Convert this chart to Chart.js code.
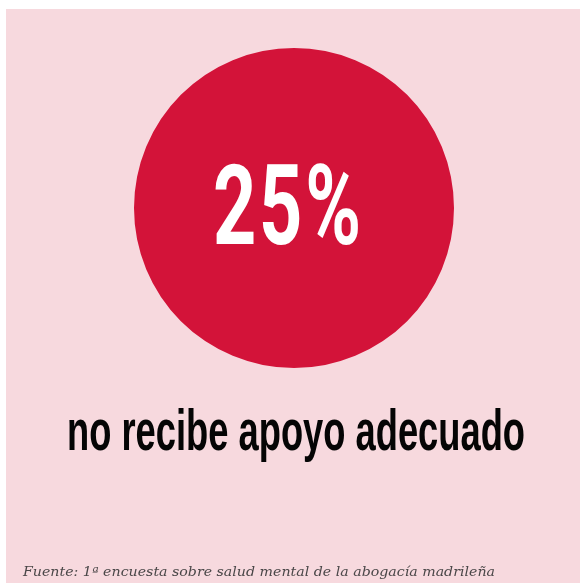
<!DOCTYPE html>
<html>
<head>
<meta charset="utf-8">
<script src="https://cdn.jsdelivr.net/npm/chart.js@4"></script>
<style>
  html, body { margin: 0; padding: 0; background: #ffffff; overflow: hidden; }
  #fondo { position: absolute; left: 6px; top: 9px; width: 574px; height: 574px; background: #f7d9de; }
  #grafico { position: absolute; left: 0; top: 0; }
</style>
</head>
<body>
<div id="fondo"></div>
<canvas id="grafico" width="580" height="583"></canvas>
<script>
// --- DATOS ---
const porcentajes = [25];
const etiquetas = ['no recibe apoyo adecuado'];
const circulo = [100]; // circulo completo
const fuente = 'Fuente: 1ª encuesta sobre salud mental de la abogacía madrileña';

// --- COLORES ---
const ROJO = '#d31339';
const TEXTO = '#050505';
const GRIS = '#4a4748';

// dibuja un texto ajustado a un ancho concreto (escala horizontal)
function textoAjustado(ctx, texto, font, x, y, ancho, color, align, espacio) {
    ctx.save();
    ctx.font = font;
    ctx.fillStyle = color;
    ctx.textBaseline = 'alphabetic';
    ctx.textAlign = 'left';
    let extra = 0;
    if (espacio) { ctx.letterSpacing = espacio + 'px'; extra = espacio; }
    const w = ctx.measureText(texto).width - extra; // sin el espacio final
    const k = ancho / w;
    let x0 = x;
    if (align === 'center') x0 = x - ancho / 2;
    ctx.translate(x0, y);
    ctx.scale(k, 1);
    ctx.fillText(texto, 0, 0);
    ctx.restore();
}

// --- PLUGIN TEXTOS ---
const textos = {
    id: 'textos',
    afterDraw(chart) {
        const ctx = chart.ctx;
        const arco = chart.getDatasetMeta(0).data[0];
        const cx = arco.x;
        // porcentaje dentro del circulo
        textoAjustado(ctx, porcentajes[0] + '%',
            "bold 111px Roboto, 'Liberation Sans', sans-serif",
            cx - 7, 244, 148, '#ffffff', 'center', 4);
        // etiqueta debajo
        textoAjustado(ctx, etiquetas[0],
            "bold 58px 'Liberation Sans Narrow', 'Liberation Sans', Arial, sans-serif",
            cx + 2, 450, 458, TEXTO, 'center');
        // fuente
        textoAjustado(ctx, fuente,
            "italic 13px 'DejaVu Serif', serif",
            23, 576, 472, GRIS, 'left');
    }
};

// --- GRAFICO ---
const ctx = document.getElementById('grafico').getContext('2d');
const grafico = new Chart(ctx, {
    type: 'pie',
    data: {
        labels: etiquetas,
        datasets: [{
            data: circulo,
            backgroundColor: [ROJO],
            borderWidth: 0,
            hoverOffset: 0,
            offset: 0
        }]
    },
    options: {
        responsive: false,
        animation: false,
        events: [],
        layout: {
            padding: { left: 134, right: 126, top: 48, bottom: 215 }
        },
        plugins: {
            legend: { display: false },
            tooltip: { enabled: false }
        }
    },
    plugins: [textos]
});
</script>
</body>
</html>
